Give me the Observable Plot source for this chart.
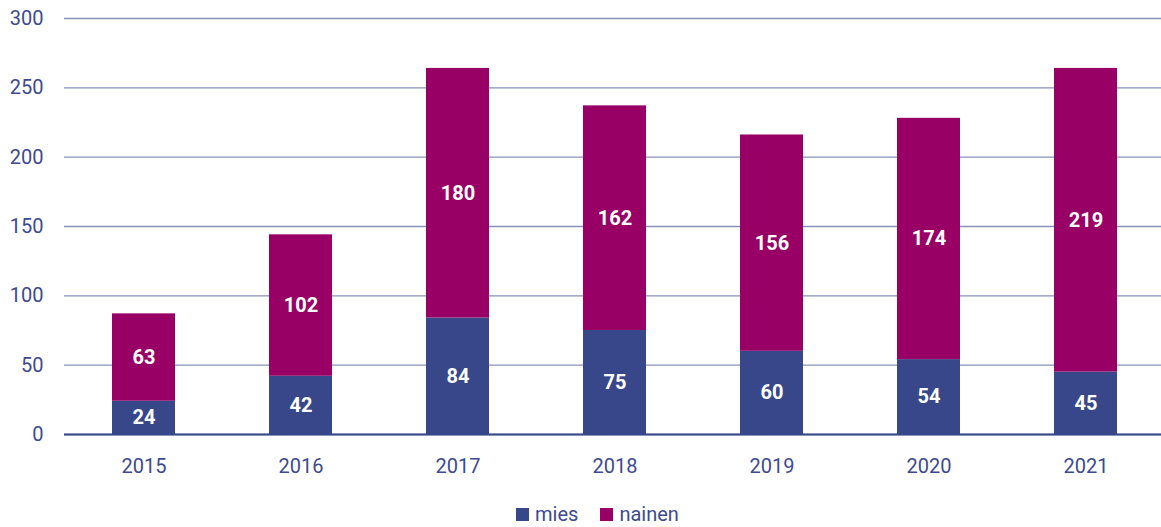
<!DOCTYPE html>
<html>
<head>
<meta charset="utf-8">
<script src="https://cdn.jsdelivr.net/npm/d3@7"></script>
<script src="https://cdn.jsdelivr.net/npm/@observablehq/plot@0.6"></script>
<style>
  html, body { margin: 0; padding: 0; background: #fff; }
  #chart { width: 1161px; }
  .legend { display: flex; justify-content: center; gap: 22px; font-family: Roboto, sans-serif; font-size: 20px; color: #3d4a8f; margin-top: 22px; margin-left: 34px; }
  .legend span.sw { display: inline-block; width: 13px; height: 13px; margin-right: 6px; vertical-align: 0px; }
</style>
</head>
<body>
<div id="chart"></div>
<script>
const years = ["2015", "2016", "2017", "2018", "2019", "2020", "2021"];
const mies = [24, 42, 84, 75, 60, 54, 45];
const nainen = [63, 102, 180, 162, 156, 174, 219];
const seriesNames = ["mies", "nainen"];
const colors = ["#37478a", "#990066"];
const yTicks = [0, 50, 100, 150, 200, 250, 300];

const data = [];
years.forEach((y, i) => {
  data.push({year: y, group: "mies", value: mies[i]});
  data.push({year: y, group: "nainen", value: nainen[i]});
});

const textColor = "#3d4a8f";
const chart = Plot.plot({
  width: 1161,
  height: 480,
  marginLeft: 64,
  marginRight: 0,
  marginTop: 18,
  marginBottom: 46,
  style: {fontFamily: "Roboto, sans-serif", fontSize: "20px", color: textColor, background: "#fff"},
  x: {domain: years, range: [62, 1166], paddingInner: 0.6, paddingOuter: 0.3, label: null},
  y: {domain: [0, 300], ticks: yTicks, label: null},
  color: {domain: seriesNames, range: colors},
  marks: [
    Plot.gridY(yTicks, {stroke: "#8790b8", strokeOpacity: 1, strokeWidth: 1.3}),
    Plot.barY(data, Plot.stackY({x: "year", y: "value", fill: "group", order: seriesNames})),
    Plot.text(data, Plot.stackY({x: "year", y: "value", z: "group", order: seriesNames, text: d => String(d.value), fill: "white", fontWeight: "bold", fontSize: 20})),
    Plot.ruleY([0], {stroke: "#37478a", strokeWidth: 2}),
    Plot.axisY({ticks: yTicks, tickSize: 0, tickPadding: 21, fontSize: 20, fill: textColor, label: null}),
    Plot.axisX({tickSize: 0, tickPadding: 24, fontSize: 20, fill: textColor, label: null})
  ]
});
document.getElementById("chart").appendChild(chart);

const legend = document.createElement("div");
legend.className = "legend";
seriesNames.forEach((n, i) => {
  const item = document.createElement("div");
  item.innerHTML = `<span class="sw" style="background:${colors[i]}"></span>${n}`;
  legend.appendChild(item);
});
document.getElementById("chart").appendChild(legend);
</script>
</body>
</html>
